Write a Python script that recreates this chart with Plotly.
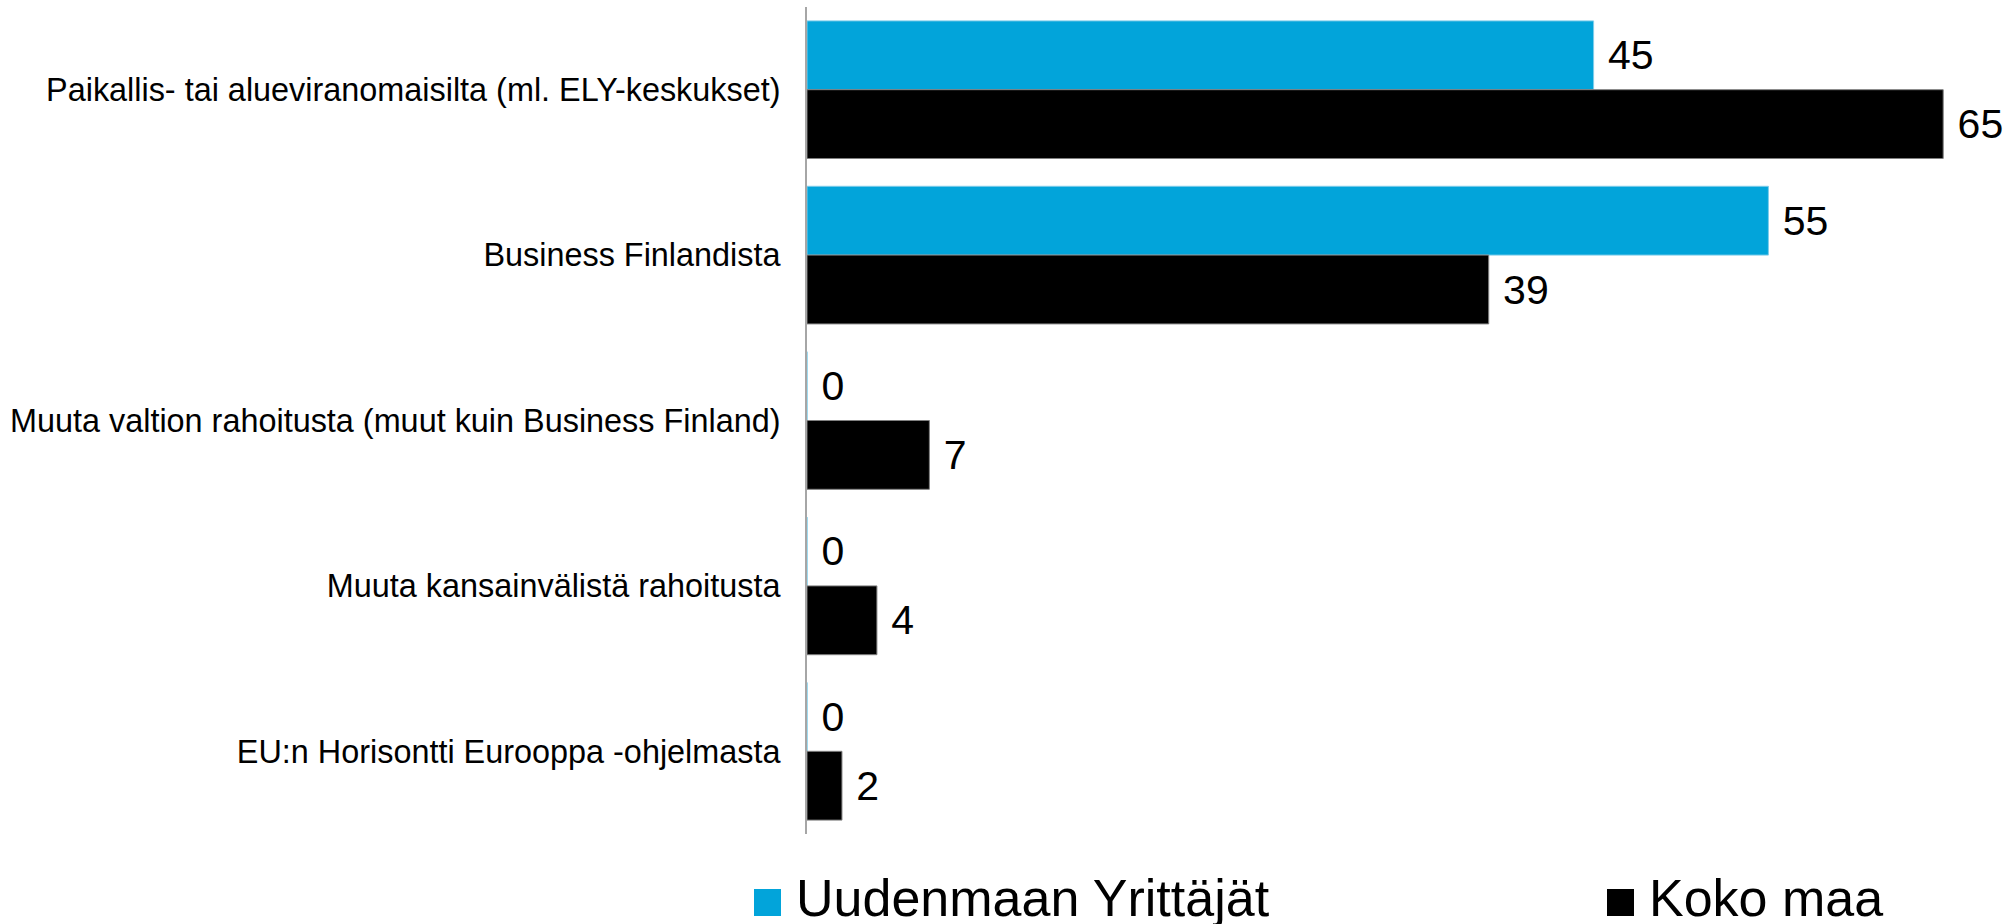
import plotly.graph_objects as go

categories = [
    "Paikallis- tai alueviranomaisilta (ml. ELY-keskukset)",
    "Business Finlandista",
    "Muuta valtion rahoitusta (muut kuin Business Finland)",
    "Muuta kansainvälistä rahoitusta",
    "EU:n Horisontti Eurooppa -ohjelmasta",
]
uusimaa = [45, 55, 0, 0, 0]
koko_maa = [65, 39, 7, 4, 2]
series_names = ["Uudenmaan Yrittäjät", "Koko maa"]
colors = ["#02A4DA", "#000000"]

W, H = 2014, 924
L, R, T, B = 807, 20, 7, 90
PW = W - L - R
PH = H - T - B

def px(x):
    return (x - L) / PW

def py(y):
    return (H - B - y) / PH

fig = go.Figure()
for name, vals, col, lc in [
    (series_names[0], uusimaa, colors[0], "#7fcdea"),
    (series_names[1], koko_maa, colors[1], "#808080"),
]:
    fig.add_trace(go.Bar(
        y=categories, x=vals, name=name, orientation="h",
        marker=dict(color=col, line=dict(color=lc, width=1)),
        texttemplate=" %{x}", textposition="outside",
        textfont=dict(size=41, color="#000000", family="Liberation Sans, Arial, sans-serif"),
        constraintext="none", cliponaxis=False, showlegend=False,
    ))

fig.update_layout(
    width=W, height=H,
    margin=dict(l=L, r=R, t=T, b=B, autoexpand=False),
    barmode="group", bargap=0.168, bargroupgap=0,
    plot_bgcolor="white", paper_bgcolor="white",
    font=dict(family="Liberation Sans, Arial, sans-serif", color="#000000"),
    showlegend=False,
)
fig.update_xaxes(visible=False, range=[0, PW / 17.48], fixedrange=True)
fig.update_yaxes(
    autorange="reversed", showline=True, linecolor="#a6a6a6", linewidth=2,
    ticks="", ticklabelstandoff=18, tickfont=dict(size=32.4, color="#000000"),
    showgrid=False, zeroline=False, fixedrange=True,
)

# custom legend
legend_items = [(754, series_names[0], colors[0]), (1607, series_names[1], colors[1])]
for x0, label, col in legend_items:
    fig.add_shape(type="rect", xref="paper", yref="paper",
                  x0=px(x0), x1=px(x0 + 27), y0=py(916), y1=py(889),
                  fillcolor=col, line=dict(width=0))
    fig.add_annotation(xref="paper", yref="paper", x=px(x0 + 40), y=py(898),
                       xanchor="left", yanchor="middle", showarrow=False,
                       text=label, font=dict(size=52, color="#000000"))

fig.write_html(
    "out.html",
    config={"displayModeBar": False},
    post_script="document.body.style.margin='0';document.body.style.overflow='hidden';",
)
